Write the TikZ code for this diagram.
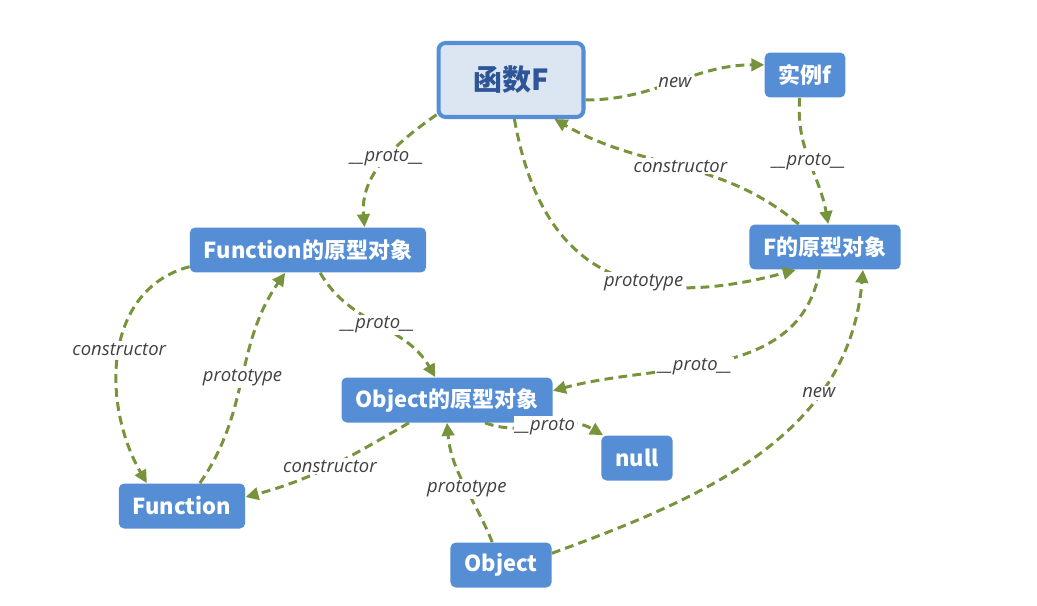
\documentclass[tikz,border=0pt]{standalone}
\usepackage{fontspec}
\setmainfont{Open Sans}
\newfontfamily\cjk{Noto Sans CJK SC}
\usepackage{xcolor}
\usepackage{tikz}
\usetikzlibrary{arrows.meta}

\definecolor{boxblue}{RGB}{85,142,213}
\definecolor{headfill}{RGB}{220,230,242}
\definecolor{headtext}{RGB}{46,85,151}
\definecolor{linkgreen}{RGB}{119,147,60}
\definecolor{lblgrey}{RGB}{64,64,64}

\begin{document}
\begin{tikzpicture}[x=0.02cm,y=-0.02cm,
    box/.style={fill=boxblue,text=white,rounded corners=3pt,minimum height=0.9cm,
        inner xsep=0.28cm,font=\cjk\bfseries\fontsize{12.5}{14}\selectfont},
    link/.style={draw=linkgreen,line width=1.7pt,dash pattern=on 5pt off 3pt,
        -{Triangle[length=0.26cm,width=0.25cm]}},
    lbl/.style={fill=white,inner sep=1pt,text=lblgrey,font=\itshape\fontsize{10.5}{12}\selectfont}]
    \useasboundingbox (0,0) rectangle (1037,605);
    \node[draw=boxblue,line width=2.3pt,fill=headfill,text=headtext,rounded corners=4pt,
        minimum width=2.9cm,minimum height=1.48cm,font=\cjk\bfseries\fontsize{16.5}{18}\selectfont] (fn) at (511,80) {函数F};
    \node[box] (inst) at (805,75) {实例f};
    \node[box] (funproto) at (308,250) {Function的原型对象};
    \node[box] (fproto) at (825,247) {F的原型对象};
    \node[box] (objproto) at (447,400) {Object的原型对象};
    \node[box] (nul) at (637,458) {null};
    \node[box] (func) at (182,506) {Function};
    \node[box] (obj) at (501,565) {Object};

    \draw[link] (fn.-15) to [out=0,in=180] node[lbl,pos=0.5] {new} (inst.166);
    \draw[link] (inst.-103) to [out=-95,in=100] node[lbl,pos=0.5] {\_\_proto\_\_} (fproto.82);
    \draw[link] (fproto.139) to [out=140,in=-30] node[lbl,pos=0.5] {constructor} (fn.-42);
    \draw[link] (fn.-85) to [out=-80,in=-165,looseness=1.3] node[lbl,pos=0.62] {prototype} (fproto.-142);
    \draw[link] (fn.-155) to [out=-145,in=95] node[lbl,pos=0.45] {\_\_proto\_\_} (funproto.22);
    \draw[link] (funproto.-172) to [out=-165,in=120,looseness=1.05] node[lbl,pos=0.48] {constructor} (func.147);
    \draw[link] (func.52) to [out=55,in=-125] node[lbl,pos=0.5] {prototype} (funproto.-135);
    \draw[link] (funproto.-62) to [out=-60,in=120] node[lbl,pos=0.5] {\_\_proto\_\_} (objproto.117);
    \draw[link] (fproto.-103) to [out=-100,in=15] node[lbl,pos=0.58] {\_\_proto\_\_} (objproto.5);
    \draw[link] (objproto.-31) to [out=-20,in=150] node[lbl,pos=0.5] {\_\_proto} (nul.146);
    \draw[link] (objproto.-149) to [out=-150,in=15] node[lbl,pos=0.5] {constructor} (func.8);
    \draw[link] (obj.111) to [out=112,in=-85] node[lbl,pos=0.45] {prototype} (objproto.-90);
    \draw[link] (obj.13) to [out=20,in=-95] node[lbl,pos=0.7] {new} (fproto.-31);
\end{tikzpicture}
\end{document}
